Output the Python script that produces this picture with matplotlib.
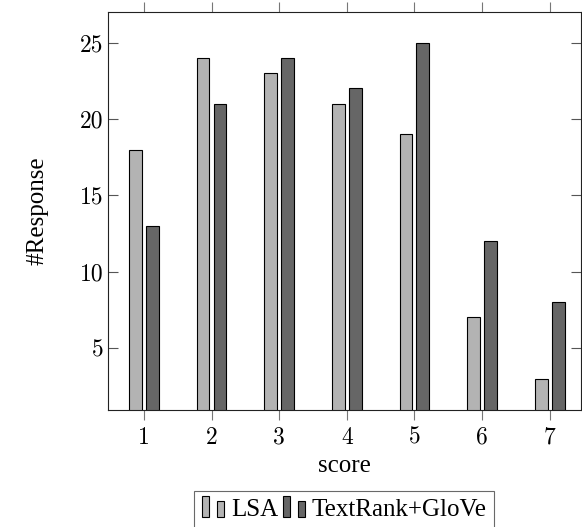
import numpy as np
import matplotlib
matplotlib.use('Agg')
import matplotlib.pyplot as plt
from matplotlib.patches import Rectangle
from matplotlib.legend_handler import HandlerBase

# Données
scores = [1, 2, 3, 4, 5, 6, 7]
lsa = [18, 24, 23, 21, 19, 7, 3]
textrank_glove = [13, 21, 24, 22, 25, 12, 8]
series_names = ['LSA', 'TextRank+GloVe']
yticks = [5, 10, 15, 20, 25]

light = '#b3b3b3'
dark = '#666666'


# Icône de légende façon pgfplots (une grande barre, une petite)
class BarPairHandler(HandlerBase):
    def create_artists(self, legend, orig_handle, xdescent, ydescent,
                       width, height, fontsize, trans):
        fc = orig_handle.get_facecolor()
        w = 5.0
        r1 = Rectangle((-xdescent, -ydescent - 1), w, 15.5,
                       facecolor=fc, edgecolor='black', lw=0.8, transform=trans)
        r2 = Rectangle((-xdescent + w + 5.8, -ydescent - 1), w, 12.0,
                       facecolor=fc, edgecolor='black', lw=0.8, transform=trans)
        return [r1, r2]


fig = plt.figure(figsize=(5.82, 5.27), dpi=100)
ax = fig.add_axes([0.1856, 0.222, 0.8124, 0.755])

x = np.array(scores)
bw = 0.19
off = 0.125
b1 = ax.bar(x - off, lsa, bw, color=light, edgecolor='black', linewidth=0.8,
            label=series_names[0], zorder=2)
b2 = ax.bar(x + off, textrank_glove, bw, color=dark, edgecolor='black',
            linewidth=0.8, label=series_names[1], zorder=2)

ax.set_xlim(0.47, 7.46)
ax.set_ylim(0.94, 27.0)
ax.set_xticks(scores)
ax.set_yticks(yticks)

for s in ax.spines.values():
    s.set_linewidth(0.8)
    s.set_color('#222222')

ax.tick_params(axis='x', direction='out', length=7, width=0.8, color='#777777',
               top=True, bottom=True, pad=5)
ax.tick_params(axis='y', direction='in', length=7, width=0.8, color='#555555',
               left=True, right=True, pad=3)

for lbl in ax.get_xticklabels() + ax.get_yticklabels():
    lbl.set_fontfamily('cmr10')
    lbl.set_fontsize(17)

ax.set_xlabel('score', fontfamily='Liberation Serif', fontsize=18)
ax.xaxis.set_label_coords(0.5, -0.113)
ax.set_ylabel('#Response', fontfamily='Liberation Serif', fontsize=18)
ax.yaxis.set_label_coords(-0.125, 0.5)

leg = ax.legend(handles=[b1.patches[0], b2.patches[0]], labels=series_names,
                handler_map={matplotlib.patches.Rectangle: BarPairHandler()},
                loc='upper center', bbox_to_anchor=(0.5, -0.2035), ncol=2,
                frameon=True, fancybox=False, edgecolor='#444444',
                prop={'family': 'Liberation Serif', 'size': 18},
                handlelength=0.88, handletextpad=0.28, columnspacing=0.2,
                borderpad=0.3, borderaxespad=0)
leg.get_frame().set_linewidth(0.8)

fig.savefig('out.png', dpi=100)
